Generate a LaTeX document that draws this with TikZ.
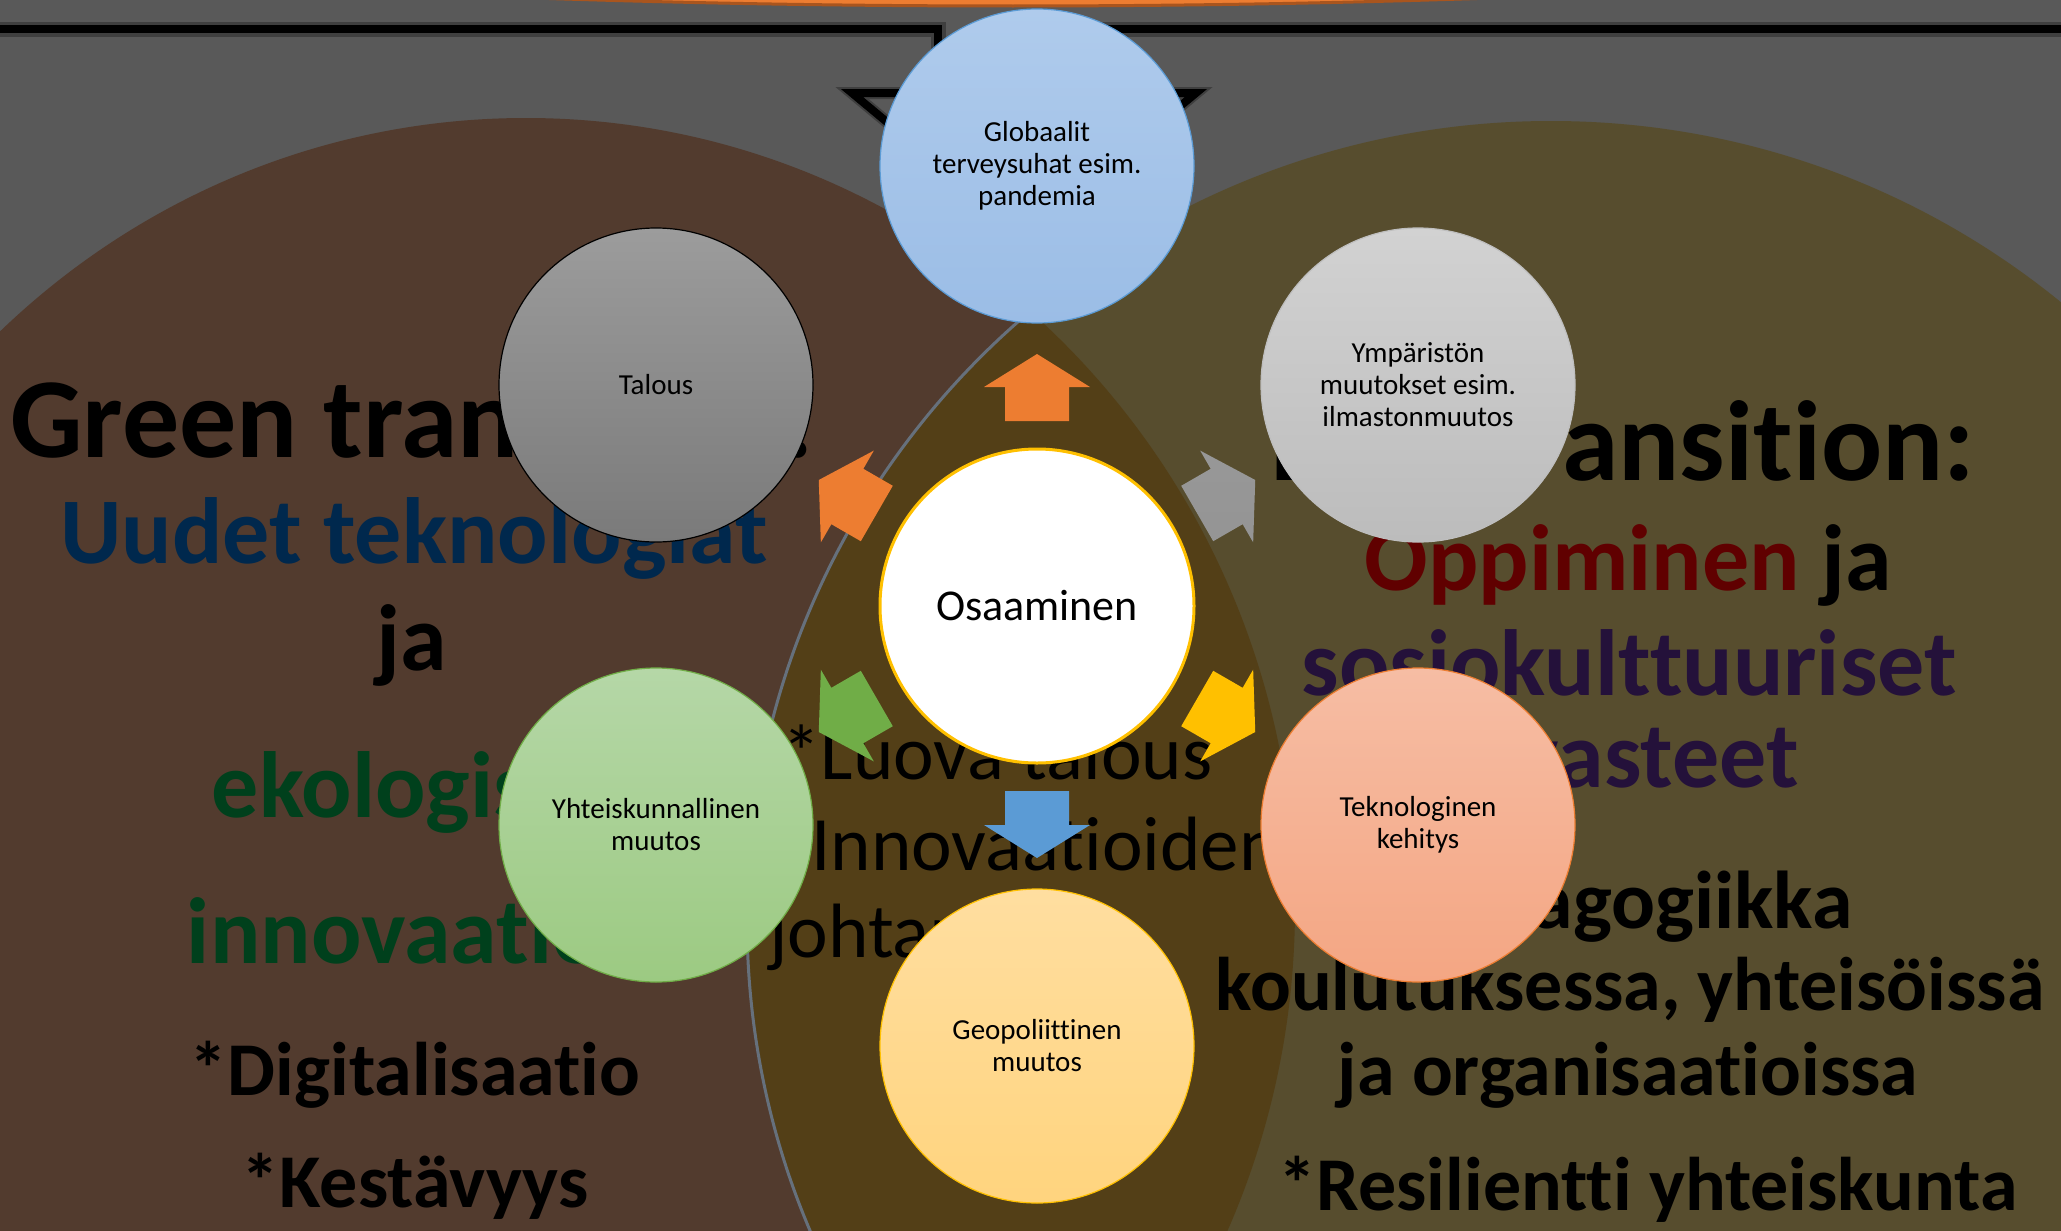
\documentclass[tikz,border=0pt]{standalone}
\usepackage{fontspec}
\setmainfont{Carlito}[Ligatures={NoCommon,NoContextual}]
\definecolor{bggray}{HTML}{595959}
\definecolor{shadowgray}{HTML}{3F3F3F}
\definecolor{leftbrown}{HTML}{523B2E}
\definecolor{rightolive}{HTML}{574D2E}
\definecolor{lensbrown}{HTML}{533F17}
\definecolor{lensline}{HTML}{66707C}
\definecolor{orangeA}{HTML}{ED7D31}
\definecolor{orangeD}{HTML}{A9551E}
\definecolor{navytxt}{HTML}{00284D}
\definecolor{greentxt}{HTML}{00401C}
\definecolor{redtxt}{HTML}{600000}
\definecolor{purpletxt}{HTML}{24113A}
\definecolor{arrgray}{HTML}{A5A5A5}
\definecolor{arryellow}{HTML}{FFC000}
\definecolor{arrblue}{HTML}{5B9BD5}
\definecolor{arrgreen}{HTML}{70AD47}
\tikzset{
  titletxt/.style={anchor=base, inner sep=0pt, font=\bfseries\fontsize{57}{60}\selectfont},
  coltxt/.style={anchor=base, inner sep=0pt, font=\bfseries\fontsize{47}{50}\selectfont},
  pedtxt/.style={anchor=base, inner sep=0pt, font=\bfseries\fontsize{41}{44}\selectfont},
  smalltxt/.style={anchor=base, inner sep=0pt, font=\bfseries\fontsize{38}{40}\selectfont},
  lenstxt/.style={anchor=base west, inner sep=0pt, font=\fontsize{38.5}{40}\selectfont},
  ball/.style={circle, minimum size=157pt, inner sep=0pt, align=center,
    font=\fontsize{14.5}{16}\selectfont, line width=0.6pt},
}
\newcommand{\blockarrowpath}{(185,-32) -- (219,-32) -- (219,-53) -- (252,0) -- (219,53) -- (219,32) -- (185,32) -- cycle}
\begin{document}
\begin{tikzpicture}[x=0.5pt,y=-0.5pt]
\useasboundingbox (0,0) rectangle (2061,1231);
\clip (0,0) rectangle (2061,1231);
\fill[bggray] (0,0) rectangle (2061,1231);
% top orange shape
\filldraw[fill=orangeA, draw=orangeD, line width=1.5pt] (1013,-300) ellipse [x radius=2100, y radius=306];
% black bar
\draw[line width=7.5pt, shadowgray] (0,29) -- (938,29) -- (938,80);
\draw[line width=4pt, black] (0,29) -- (938,29) -- (938,80);
\draw[line width=7.5pt, shadowgray] (1080,29) -- (2061,29);
\draw[line width=4pt, black] (1080,29) -- (2061,29);
% triangle
\draw[line width=6pt, shadowgray, line join=miter] (852,93) -- (1196,93) -- (1024,236) -- cycle;
\draw[line width=4pt, black, line join=miter] (852,93) -- (1196,93) -- (1024,236) -- cycle;
% big ellipses
\fill[leftbrown] (526,907) ellipse [x radius=769, y radius=789];
\fill[rightolive] (1551,920) ellipse [x radius=804, y radius=799];
\begin{scope}
  \clip (526,907) ellipse [x radius=769, y radius=789];
  \fill[lensbrown] (1551,920) ellipse [x radius=804, y radius=799];
  \draw[lensline, line width=1.5pt] (1551,920) ellipse [x radius=804, y radius=799];
\end{scope}
% left column text
\node[titletxt] (gt) at (412,457) {Green transition:};
\node[coltxt, text=navytxt] (ut) at (414,563) {Uudet teknologiat};
\node[coltxt] (ja1) at (412,670) {ja};
\node[coltxt, text=greentxt] (eko) at (411,817) {ekologiset};
\node[coltxt, text=greentxt] (inn) at (411,963) {innovaatiot};
\node[smalltxt] (dig) at (415,1095) {*Digitalisaatio};
\node[smalltxt] (kes) at (415,1207) {*Kestävyys};
% right column text
\node[titletxt, anchor=base east] (bt) at (1975,480) {Blue\kern-11pt\ transition:};
\node[coltxt] (opp) at (1628,590) {\textcolor{redtxt}{Oppiminen} ja};
\node[coltxt, text=purpletxt] (sos) at (1629,695) {sosiokulttuuriset};
\node[coltxt, text=purpletxt, anchor=base east] (vas) at (1799,787) {vasteet};
\node[pedtxt, anchor=base east] (ped) at (1853,928) {Pedagogiikka};
\node[smalltxt] (kou) at (1630,1010) {koulutuksessa, yhteisöissä};
\node[smalltxt] (org) at (1628,1095) {ja organisaatioissa};
\node[smalltxt] (res) at (1648,1210) {*Resilientti yhteiskunta};
% lens text
\node[lenstxt] (luo) at (782,779) {*Luova talous};
\node[lenstxt] (innj) at (811,870) {Innovaatioiden};
\node[lenstxt] (joh) at (769,957) {johtaminen};
% arrows
\coordinate (c) at (1037,606);
\begin{scope}[shift={(c)}, rotate=90]  \fill[orangeA] \blockarrowpath; \end{scope}
\begin{scope}[shift={(c)}, rotate=150] \fill[orangeA] \blockarrowpath; \end{scope}
\begin{scope}[shift={(c)}, rotate=30]  \shade[top color=arrgray!115!white, bottom color=arrgray!90!black] \blockarrowpath; \end{scope}
\begin{scope}[shift={(c)}, rotate=-30] \fill[arryellow] \blockarrowpath; \end{scope}
\begin{scope}[shift={(c)}, rotate=-90] \fill[arrblue] \blockarrowpath; \end{scope}
\begin{scope}[shift={(c)}, rotate=-150] \fill[arrgreen] \blockarrowpath; \end{scope}
% circles
\node[ball, top color={rgb,255:red,175;green,203;blue,236}, bottom color={rgb,255:red,155;green,189;blue,230}, draw={rgb,255:red,91;green,155;blue,213}] (glo) at (1037,166) {Globaalit\\terveysuhat esim.\\pandemia};
\node[ball, top color={rgb,255:red,156;green,156;blue,156}, bottom color={rgb,255:red,122;green,122;blue,122}, draw=black] (tal) at (656,385) {Talous};
\node[ball, top color={rgb,255:red,210;green,210;blue,210}, bottom color={rgb,255:red,188;green,188;blue,188}, draw={rgb,255:red,190;green,190;blue,190}] (ymp) at (1418,385) {Ympäristön\\muutokset esim.\\ilmastonmuutos};
\node[ball, fill=white, draw=arryellow, line width=1.5pt, font=\fontsize{22}{24}\selectfont] (osa) at (1037,606) {Osaaminen};
\node[ball, top color={rgb,255:red,181;green,215;blue,167}, bottom color={rgb,255:red,156;green,202;blue,130}, draw=arrgreen] (yht) at (656,825) {Yhteiskunnallinen\\muutos};
\node[ball, top color={rgb,255:red,246;green,189;blue,164}, bottom color={rgb,255:red,244;green,166;blue,131}, draw=orangeA] (tek) at (1418,825) {Teknologinen\\kehitys};
\node[ball, top color={rgb,255:red,255;green,222;blue,160}, bottom color={rgb,255:red,255;green,212;blue,126}, draw=arryellow] (geo) at (1037,1046) {Geopoliittinen\\muutos};
\end{tikzpicture}
\end{document}
